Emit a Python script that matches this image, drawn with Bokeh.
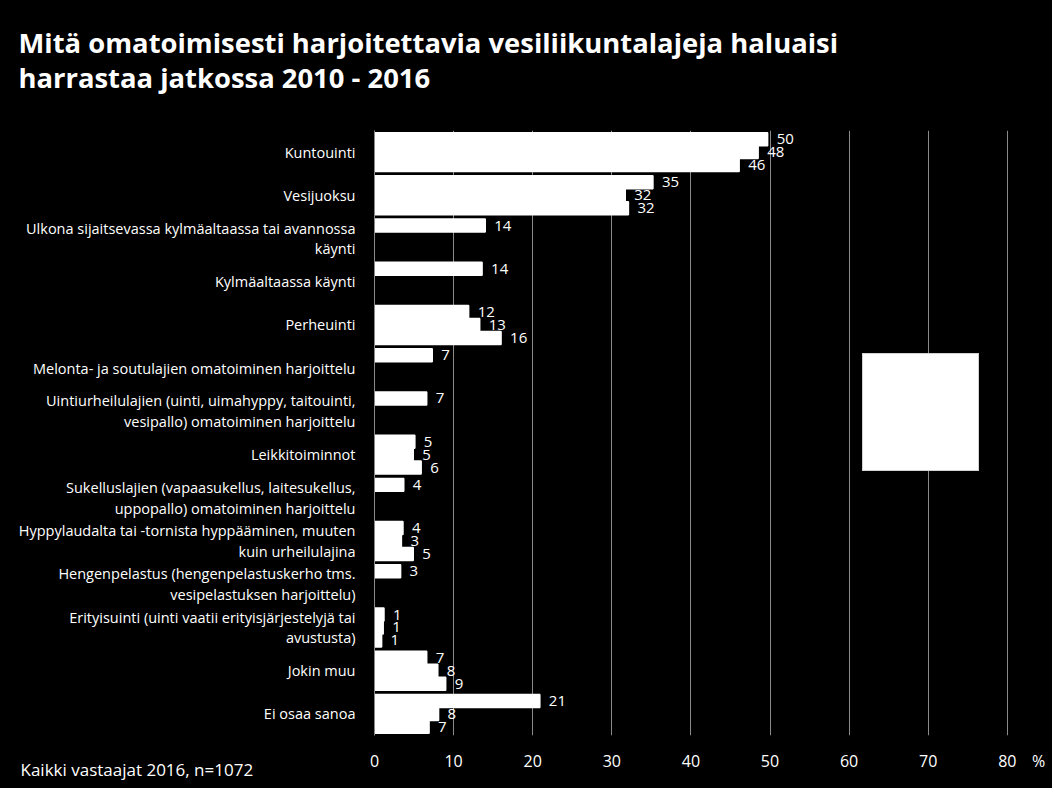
from bokeh.plotting import figure
from bokeh.models import (ColumnDataSource, FactorRange, Range1d, FixedTicker,
                          Label, Legend, LegendItem)
from bokeh.transform import dodge
from bokeh.core.properties import value
from bokeh.embed import file_html
from bokeh.resources import INLINE

FONT = "Open Sans"

categories = [
    "Kuntouinti",
    "Vesijuoksu",
    "Ulkona sijaitsevassa kylmäaltaassa tai avannossa\nkäynti",
    "Kylmäaltaassa käynti",
    "Perheuinti",
    "Melonta- ja soutulajien omatoiminen harjoittelu",
    "Uintiurheilulajien (uinti, uimahyppy, taitouinti,\nvesipallo) omatoiminen harjoittelu",
    "Leikkitoiminnot",
    "Sukelluslajien (vapaasukellus, laitesukellus,\nuppopallo) omatoiminen harjoittelu",
    "Hyppylaudalta tai -tornista hyppääminen, muuten\nkuin urheilulajina",
    "Hengenpelastus (hengenpelastuskerho tms.\nvesipelastuksen harjoittelu)",
    "Erityisuinti (uinti vaatii erityisjärjestelyjä tai\navustusta)",
    "Jokin muu",
    "Ei osaa sanoa",
]

series_names = ["2016", "2013", "2010"]
v2016 = [49.7, 35.2, 14.0, 13.6, 11.9, 7.3, 6.6, 5.1, 3.7, 3.6, 3.3, 1.2, 6.6, 20.9]
v2013 = [48.5, 31.7, None, None, 13.3, None, None, 4.9, None, 3.4, None, 1.1, 8.0, 8.1]
v2010 = [46.1, 32.1, None, None, 16.0, None, None, 5.9, None, 4.9, None, 0.9, 9.0, 6.9]

x_ticks = [0, 10, 20, 30, 40, 50, 60, 70, 80]

title_lines = ["Mitä omatoimisesti harjoitettavia vesiliikuntalajeja haluaisi",
               "harrastaa jatkossa 2010 - 2016"]
footnote = "Kaikki vastaajat 2016, n=1072"
unit_label = "%"

p = figure(width=1052, height=788,
           y_range=FactorRange(factors=list(reversed(categories)), range_padding=0),
           x_range=Range1d(0, 80.15),
           output_backend="svg", toolbar_location=None,
           min_border_left=374, min_border_right=44,
           min_border_top=130, min_border_bottom=53)
p.background_fill_color = "black"
p.border_fill_color = "black"
p.outline_line_color = None
p.styles = {"background-color": "black"}

offsets = [0.3, 0.0, -0.3]
items = []
for name, vals, off in zip(series_names, [v2016, v2013, v2010], offsets):
    cats = [c for c, v in zip(categories, vals) if v is not None]
    vv = [v for v in vals if v is not None]
    src = ColumnDataSource(dict(cat=cats, val=vv, lbl=[str(int(round(v))) for v in vv]))
    r = p.hbar(y=dodge("cat", off, range=p.y_range), left=0, right="val", height=0.3,
               source=src, fill_color="white", line_color="white", line_width=1.5)
    p.text(x="val", y=dodge("cat", off, range=p.y_range), text="lbl", source=src,
           x_offset=9, text_baseline="middle", text_color="white",
           text_font=value(FONT), text_font_size="15px")
    items.append(LegendItem(label=name, renderers=[r]))

legend = Legend(items=items, location=(488, 264), margin=0, padding=25, spacing=3,
                glyph_width=20, glyph_height=20, label_height=20, label_width=39,
                label_standoff=6, background_fill_color="white", background_fill_alpha=1,
                border_line_color="#a6a6a6", border_line_width=1,
                label_text_color="white", label_text_font=FONT, label_text_font_size="13px")
p.add_layout(legend, "center")

# axes
p.xaxis.ticker = FixedTicker(ticks=x_ticks)
p.xaxis.axis_line_color = None
p.xaxis.major_tick_line_color = None
p.xaxis.minor_tick_line_color = None
p.xaxis.major_label_text_color = "white"
p.xaxis.major_label_text_font = FONT
p.xaxis.major_label_text_font_size = "16px"
p.xaxis.major_label_standoff = 13

p.yaxis.axis_line_color = "#8a8a8a"
p.yaxis.axis_line_width = 1
p.yaxis.major_tick_line_color = None
p.yaxis.minor_tick_line_color = None
p.yaxis.major_label_text_color = "white"
p.yaxis.major_label_text_font = FONT
p.yaxis.major_label_text_font_size = "14.5px"
p.yaxis.major_label_text_line_height = 1.1
p.yaxis.major_label_text_align = "center"
p.yaxis.major_label_standoff = 13

p.xgrid.ticker = FixedTicker(ticks=x_ticks)
p.xgrid.grid_line_color = "#8a8a8a"
p.xgrid.grid_line_width = 1
p.ygrid.grid_line_color = None

# title lines and footnote (canvas units, in side panels so they are not clipped)
for t, yb in zip(title_lines, [42, 77]):
    p.add_layout(Label(x=18, y=yb, x_units="canvas", y_units="canvas", text=t,
                       text_color="white", text_font=FONT, text_font_style="bold",
                       text_font_size="27.4px", text_baseline="alphabetic"), "above")

p.add_layout(Label(x=20, y=769, x_units="canvas", y_units="canvas", text=footnote,
                   text_color="white", text_font=FONT, text_font_size="17px",
                   text_baseline="alphabetic"), "above")
p.add_layout(Label(x=1038, y=760, x_units="canvas", y_units="canvas", text=unit_label,
                   text_color="white", text_font=FONT, text_font_size="16px",
                   text_baseline="middle", text_align="center"), "right")

open("out.html", "w").write(file_html(p, INLINE))
